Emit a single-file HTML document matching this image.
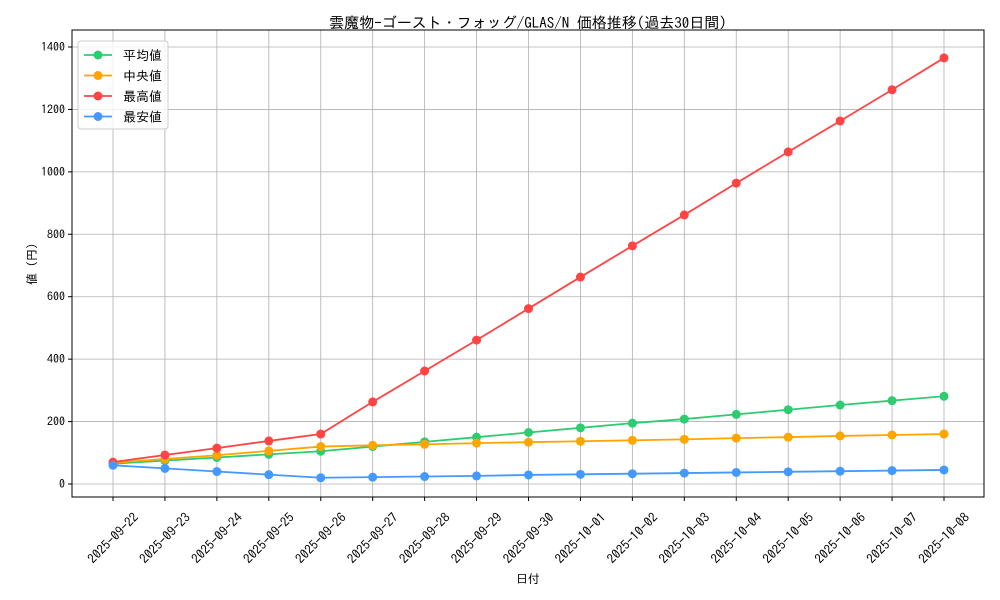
<!DOCTYPE html>
<html><head><meta charset="utf-8"><style>
body{margin:0;background:#fff;}
svg{display:block;font-family:"IPAGothic","Liberation Sans","Noto Sans CJK JP",sans-serif;}
</style></head><body>
<svg id="chart" width="1000" height="600"></svg>
<script>
const categories=["2025-09-22","2025-09-23","2025-09-24","2025-09-25","2025-09-26","2025-09-27","2025-09-28","2025-09-29","2025-09-30","2025-10-01","2025-10-02","2025-10-03","2025-10-04","2025-10-05","2025-10-06","2025-10-07","2025-10-08"];
const avgValues=[65,75,85,95,105,120,135,150,165,180,195,208,223,238,253,267,281];
const medValues=[68,80,92,106,120,124,127,131,134,137,140,143,147,150,154,157,160];
const maxValues=[70,93,115,138,160,263,362,461,562,663,763,862,964,1064,1163,1263,1365];
const minValues=[60,50,40,30,20,22,24,26,29,31,33,35,37,39,41,43,45];
const yTicks=[0,200,400,600,800,1000,1200,1400];
const seriesNames=["平均値","中央値","最高値","最安値"];
const colors=["#2ecc71","#ffa500","#ff4444","#4499ff"];
const NS="http://www.w3.org/2000/svg";
const svg=document.getElementById('chart');
const L=72,R=984,T=30,B=497;
function xs(i){return 113+i*(944-113)/(categories.length-1);}
function ys(v){return 484-v*(484-47)/1400;}
function el(tag,attrs,parent){const e=document.createElementNS(NS,tag);for(const k in attrs)e.setAttribute(k,attrs[k]);(parent||svg).appendChild(e);return e;}
categories.forEach((c,i)=>{const g=el('line',{x1:xs(i),x2:xs(i),y1:T,y2:B,stroke:'#b0b0b0','stroke-width':0.8});


el('line',{x1:xs(i),x2:xs(i),y1:B,y2:B+4,stroke:'#000'});
const t=el('text',{x:0,y:0,'font-size':13,'text-anchor':'middle',transform:`translate(${xs(i)},${538}) rotate(-45)`,dy:'0.35em'});t.textContent=c;

});
yTicks.forEach(v=>{const g=el('line',{x1:L,x2:R,y1:ys(v),y2:ys(v),stroke:'#b0b0b0','stroke-width':0.8});


el('line',{x1:L-4,x2:L,y1:ys(v),y2:ys(v),stroke:'#000'});
const t=el('text',{x:L-7,y:ys(v)+4,'font-size':12,'text-anchor':'end'});t.textContent=v;

});
const frame=el('rect',{x:L,y:T,width:R-L,height:B-T,fill:'none',stroke:'#000','stroke-width':1});


[avgValues,medValues,maxValues,minValues].forEach((vals,s)=>{
const g=el('g',{});


el('polyline',{points:vals.map((v,i)=>xs(i)+','+ys(v)).join(' '),fill:'none',stroke:colors[s],'stroke-width':1.8},g);
vals.forEach((v,i)=>{const c=el('circle',{cx:xs(i),cy:ys(v),r:4.5,fill:colors[s]},g);

});
});
const title=el('text',{x:528,y:28,'font-size':15,'text-anchor':'middle'});title.textContent="雲魔物-ゴースト・フォッグ/GLAS/N 価格推移(過去30日間)";


const xt=el('text',{x:528,y:583,'font-size':12,'text-anchor':'middle'});xt.textContent="日付";


const yt=el('text',{x:0,y:0,'font-size':12,'text-anchor':'middle',transform:'translate(36,264) rotate(-90)'});yt.textContent="値 (円)";


const lg=el('g',{});


el('rect',{x:78,y:41,width:90,height:88,fill:'#fff','fill-opacity':0.8,stroke:'#ccc',rx:3},lg);
seriesNames.forEach((n,s)=>{const y=55+s*20.5;
const e=el('g',{},lg);


el('line',{x1:84,x2:112,y1:y,y2:y,stroke:colors[s],'stroke-width':1.8},e);
el('circle',{cx:98,cy:y,r:4.5,fill:colors[s]},e);
const t=el('text',{x:123,y:y+5,'font-size':13},e);t.textContent=n;});
</script>
</body></html>
